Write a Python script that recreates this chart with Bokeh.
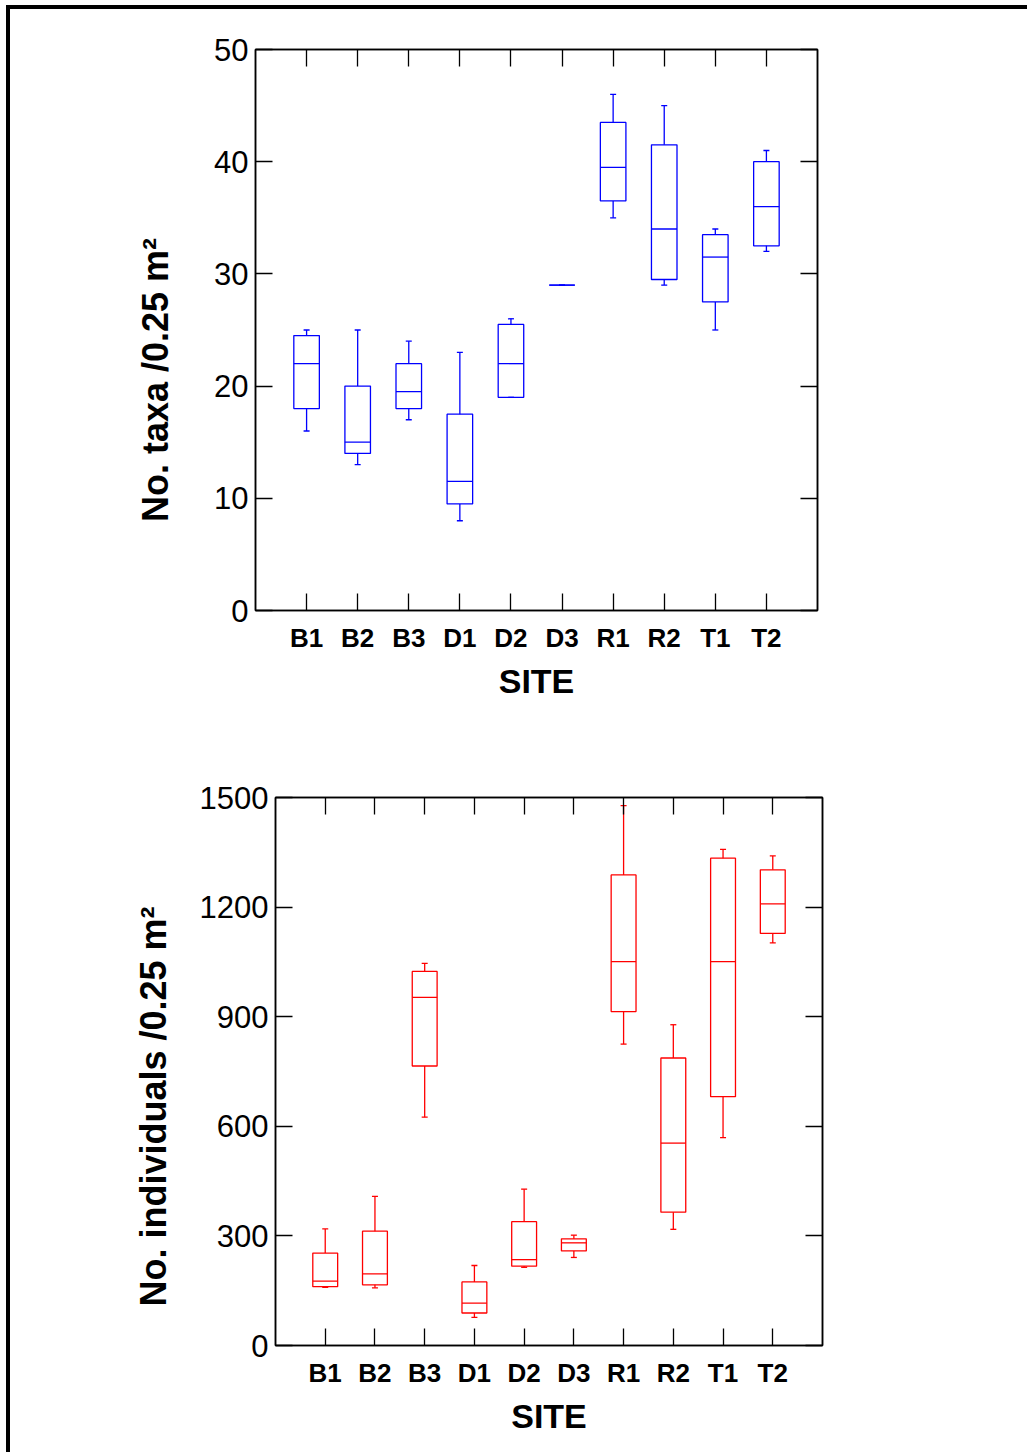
from bokeh.plotting import figure
from bokeh.models import (FactorRange, Range1d, FixedTicker, LinearAxis,
                          CategoricalAxis, ColumnDataSource, Spacer)
from bokeh.layouts import column, row
from bokeh.embed import file_html
from bokeh.resources import INLINE

sites = ["B1", "B2", "B3", "D1", "D2", "D3", "R1", "R2", "T1", "T2"]

# No. taxa / 0.25 m2
taxa_lo  = [16, 13, 17,  8.0, 19.0, 29, 35.0, 29.0, 25.0, 32.0]
taxa_q1  = [18, 14, 18,  9.5, 19.0, 29, 36.5, 29.5, 27.5, 32.5]
taxa_med = [22, 15, 19.5, 11.5, 22.0, 29, 39.5, 34.0, 31.5, 36.0]
taxa_q3  = [24.5, 20, 22, 17.5, 25.5, 29, 43.5, 41.5, 33.5, 40.0]
taxa_hi  = [25, 25, 24, 23.0, 26.0, 29, 46.0, 45.0, 34.0, 41.0]
taxa_ticks = [0, 10, 20, 30, 40, 50]

# No. individuals / 0.25 m2
ind_lo  = [159, 158, 625,  77, 214, 241,  825, 318,  569, 1102]
ind_q1  = [161, 166, 765,  89, 217, 259,  914, 365,  681, 1128]
ind_med = [176, 196, 953, 116, 235, 281, 1051, 554, 1051, 1209]
ind_q3  = [253, 313, 1024, 174, 339, 292, 1288, 787, 1334, 1302]
ind_hi  = [319, 408, 1046, 219, 428, 302, 1478, 878, 1358, 1340]
ind_ticks = [0, 300, 600, 900, 1200, 1500]

FONT = "Liberation Sans"
NBSP = "\u00a0"


def make_plot(lo, q1, med, q3, hi, ticks, ymax, color, ylabel, ylabel_size,
              ylabel_standoff, left, top, right, bottom, fw, fh):
    p = figure(x_range=FactorRange(*sites, range_padding=0.5,
                                   range_padding_units="absolute"),
               y_range=Range1d(0, ymax),
               frame_width=fw, frame_height=fh,
               min_border_left=left, min_border_top=top,
               min_border_right=right, min_border_bottom=bottom,
               output_backend="svg", toolbar_location=None)
    p.grid.visible = False
    p.outline_line_color = "black"
    p.outline_line_width = 1.5
    p.background_fill_color = "white"
    p.border_fill_color = "white"

    src = ColumnDataSource(dict(
        x=sites, lo=lo, q1=q1, med=med, q3=q3, hi=hi,
        xl=[(s, -0.25) for s in sites], xr=[(s, 0.25) for s in sites]))

    p.vbar(x="x", top="q3", bottom="q1", width=0.5, source=src,
           fill_color=None, line_color=color, line_width=1.3)
    p.segment(x0="xl", y0="med", x1="xr", y1="med", source=src,
              line_color=color, line_width=1.3)
    p.segment(x0="x", y0="q3", x1="x", y1="hi", source=src,
              line_color=color, line_width=1.3)
    p.segment(x0="x", y0="q1", x1="x", y1="lo", source=src,
              line_color=color, line_width=1.3)
    p.scatter(x="x", y="hi", source=src, marker="dash", size=6,
              line_color=color, line_width=1.3)
    p.scatter(x="x", y="lo", source=src, marker="dash", size=6,
              line_color=color, line_width=1.3)

    p.yaxis.ticker = FixedTicker(ticks=ticks)
    for ax in (p.xaxis[0], p.yaxis[0]):
        ax.major_tick_in = 17
        ax.major_tick_out = 0
        ax.major_tick_line_color = "black"
        ax.major_tick_line_width = 1.3
        ax.minor_tick_line_color = None
        ax.axis_line_color = "black"
        ax.axis_line_width = 1.5
    p.yaxis.major_label_text_font = FONT
    p.yaxis.major_label_text_font_size = "31px"
    p.yaxis.major_label_text_color = "black"
    p.yaxis.major_label_standoff = 7
    p.yaxis.axis_label = ylabel
    p.yaxis.axis_label_text_font = FONT
    p.yaxis.axis_label_text_font_style = "bold"
    p.yaxis.axis_label_text_font_size = ylabel_size
    p.yaxis.axis_label_text_color = "black"
    p.yaxis.axis_label_standoff = ylabel_standoff

    p.xaxis.major_label_text_font = FONT
    p.xaxis.major_label_text_font_style = "bold"
    p.xaxis.major_label_text_font_size = "26px"
    p.xaxis.major_label_text_color = "black"
    p.xaxis.major_label_standoff = 12
    p.xaxis.axis_label = "SITE"
    p.xaxis.axis_label_text_font = FONT
    p.xaxis.axis_label_text_font_style = "bold"
    p.xaxis.axis_label_text_font_size = "34px"
    p.xaxis.axis_label_text_color = "black"
    p.xaxis.axis_label_standoff = 6

    # mirrored inside ticks on the top and right edges
    ra = LinearAxis(ticker=FixedTicker(ticks=ticks))
    ta = CategoricalAxis()
    for ax in (ra, ta):
        ax.major_tick_in = 17
        ax.major_tick_out = 0
        ax.major_tick_line_color = "black"
        ax.major_tick_line_width = 1.3
        ax.minor_tick_line_color = None
        ax.axis_line_color = "black"
        ax.axis_line_width = 1.5
        ax.major_label_text_color = None
    p.add_layout(ra, "right")
    p.add_layout(ta, "above")
    return p


p1 = make_plot(taxa_lo, taxa_q1, taxa_med, taxa_q3, taxa_hi, taxa_ticks, 50,
               "#0000ff", "No. taxa /0.25 m\u00b2" + NBSP * 10, "36px", 35,
               left=245, top=40, right=210, bottom=100, fw=562, fh=561)
p2 = make_plot(ind_lo, ind_q1, ind_med, ind_q3, ind_hi, ind_ticks, 1500,
               "#ff0000", "No. individuals /0.25 m\u00b2" + NBSP * 7, "36px", 23,
               left=245, top=87, right=205, bottom=107, fw=547, fh=548)

layout = column(p1, row(Spacer(width=20, height=10), p2), margin=(5, 0, 0, 6),
                styles={"border-top": "4px solid black",
                        "border-left": "4px solid black"})

open("out.html", "w").write(file_html(layout, INLINE))
